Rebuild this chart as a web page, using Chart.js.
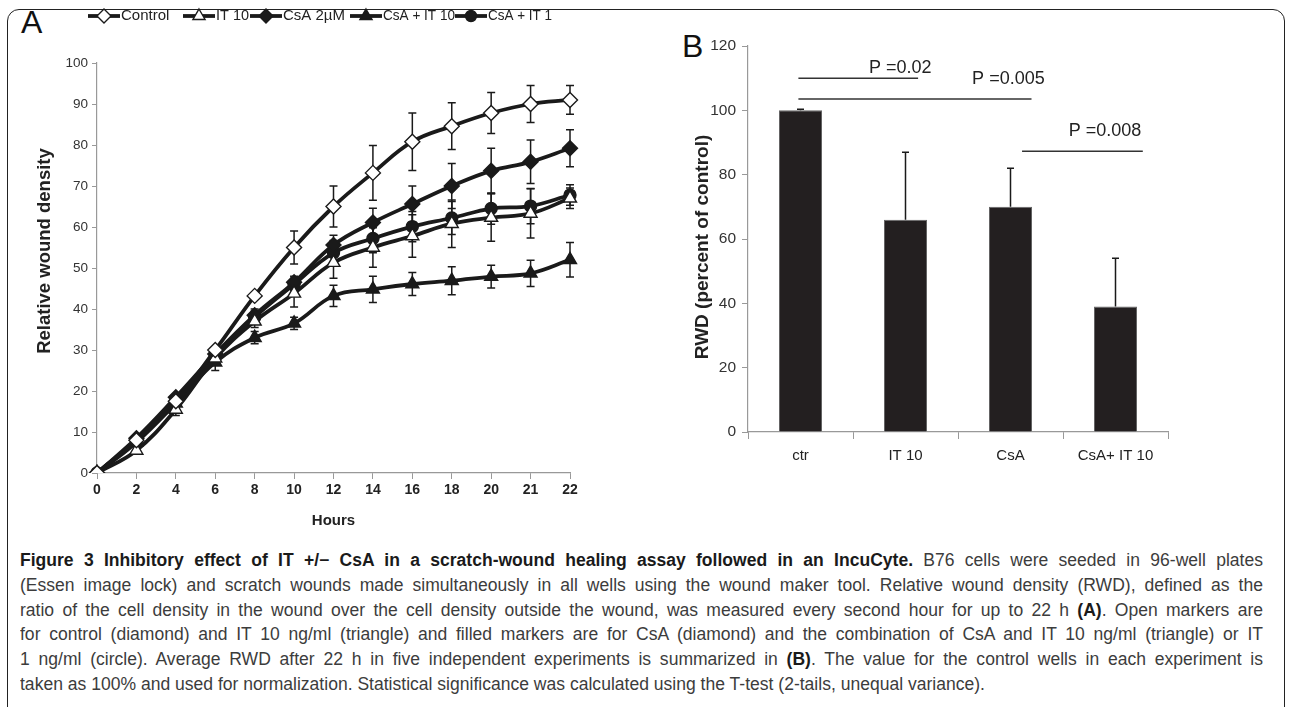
<!DOCTYPE html>
<html>
<head>
<meta charset="utf-8">
<script src="https://cdn.jsdelivr.net/npm/chart.js@4.4.0/dist/chart.umd.min.js"></script>
<style>
  html, body { margin: 0; padding: 0; background: #fff; width: 1292px; height: 707px; overflow: hidden; }
  #frame { position: absolute; left: 7px; top: 9px; width: 1276px; height: 730px; border: 1.5px solid #222; border-radius: 12px; }
  .panel { position: absolute; font-family: "Liberation Sans", Arial, sans-serif; font-size: 32px; color: #111; }
  #wrapA { position: absolute; left: 0; top: 0; width: 650px; height: 540px; }
  #wrapB { position: absolute; left: 640px; top: 0; width: 570px; height: 540px; }
  #caption { position: absolute; left: 20px; top: 548px; transform-origin: 0 0; font-family: "Liberation Sans", Arial, sans-serif; font-size: 17.5px; color: #3c3c3c; }
  #caption div { white-space: nowrap; height: 24.8px; line-height: 24.8px; }
  #caption span { display: inline-block; }
  #caption.fit span { display: inline; }
  #caption.fit div { text-align: justify; text-align-last: justify; }
  #caption.fit div.last { text-align-last: left; }
  #caption b { color: #1a1a1a; }
</style>
</head>
<body>
<div id="frame"></div>
<div class="panel" style="left:21px; top:4px;">A</div>
<div class="panel" style="left:682px; top:28px;">B</div>
<div id="wrapA"><canvas id="chartA" width="650" height="540"></canvas></div>
<div id="wrapB"><canvas id="chartB" width="570" height="540"></canvas></div>
<div id="caption">
  <div><span><b>Figure 3 Inhibitory effect of IT +/− CsA in a scratch-wound healing assay followed in an IncuCyte.</b> B76 cells were seeded in 96-well plates</span></div>
  <div><span>(Essen image lock) and scratch wounds made simultaneously in all wells using the wound maker tool. Relative wound density (RWD), defined as the</span></div>
  <div><span>ratio of the cell density in the wound over the cell density outside the wound, was measured every second hour for up to 22 h <b>(A)</b>. Open markers are</span></div>
  <div><span>for control (diamond) and IT 10 ng/ml (triangle) and filled markers are for CsA (diamond) and the combination of CsA and IT 10 ng/ml (triangle) or IT</span></div>
  <div><span>1 ng/ml (circle). Average RWD after 22 h in five independent experiments is summarized in <b>(B)</b>. The value for the control wells in each experiment is</span></div>
  <div class="last"><span>taken as 100% and used for normalization. Statistical significance was calculated using the T-test (2-tails, unequal variance).</span></div>
</div>
<script>
// panel A data
const hours = ["0", "2", "4", "6", "8", "10", "12", "14", "16", "18", "20", "21", "22"];
const controlMean = [0, 8, 17.5, 30, 43.2, 55, 65, 73.2, 80.8, 84.6, 87.8, 90, 91];
const controlErr = [0.5, 1, 1, 1, 1, 4, 5, 6.7, 7, 5.7, 5, 4.5, 3.5];
const it10Mean = [0, 5.5, 15.5, 28, 37, 43.8, 51.3, 55, 57.8, 60.8, 62.3, 63.3, 67];
const it10Err = [0.5, 1, 1.5, 1.5, 1.5, 3.3, 3.8, 4.8, 5.2, 5.8, 5.8, 6, 2.5];
const csaMean = [0, 8.5, 18.5, 29, 38.5, 46.5, 55.6, 61.1, 65.6, 70, 73.7, 75.9, 79.2];
const csaErr = [0.5, 1, 1, 1, 1.5, 1.5, 2.4, 3.5, 4.4, 5.5, 5.5, 5.3, 4.5];
const csaIt10Mean = [0, 7.5, 17, 27, 33, 36.5, 43.2, 44.8, 46.1, 46.9, 47.9, 48.7, 52];
const csaIt10Err = [0.5, 1, 1, 2, 1.5, 1.5, 2.6, 3.2, 2.8, 3.4, 2.8, 3.2, 4.2];
const csaIt1Mean = [0, 8, 18, 28.5, 38, 46, 53.7, 57.2, 60.1, 62.2, 64.5, 65.1, 67.8];
const csaIt1Err = [0.5, 1, 1, 1, 1.5, 1.5, 3, 3.5, 3.7, 4, 3.8, 4.3, 2.5];

// panel B data
const groups = ["ctr", "IT 10", "CsA", "CsA+ IT 10"];
const rwdMean = [100, 66, 70, 39];
const rwdErr = [0.3, 21, 12, 15];
const sigLabels = ["P =0.02", "P =0.005", "P =0.008"];
const sigLevel = [110, 103.5, 87.3];
const sigFrom = [-0.02, -0.02, 2.11];
const sigTo = [1.12, 2.2, 3.26];
const sigTextAt = [0.95, 1.98, 2.9];
const sigTextLevel = [113.3, 109.7, 93.6];

const FONT = '"Liberation Sans", Arial, sans-serif';
const INK = "#1a1a1a";

function series(label, data, errors, style, fill, radius) {
  return {
    label: label, data: data, errors: errors,
    borderColor: INK, borderWidth: 3.8, tension: 0.4,
    pointStyle: style, pointRadius: radius, pointBorderWidth: 1.4,
    pointBackgroundColor: fill, pointBorderColor: INK, legendFill: fill
  };
}

// y title drawn by hand so it can sit off-centre like the original
function sideTitle(text, x, y, size) {
  return {
    id: "sideTitle",
    afterDraw(chart) {
      const ctx = chart.ctx;
      ctx.save();
      ctx.translate(x, y);
      ctx.rotate(-Math.PI / 2);
      ctx.font = "bold " + size + "px " + FONT;
      ctx.fillStyle = "#222";
      ctx.textAlign = "center";
      ctx.textBaseline = "middle";
      ctx.fillText(text, 0, 0);
      ctx.restore();
    }
  };
}

const errorBars = {
  id: "errorBars",
  beforeDatasetsDraw(chart) {
    const ctx = chart.ctx, y = chart.scales.y;
    ctx.save();
    ctx.strokeStyle = INK;
    ctx.lineWidth = 1.5;
    chart.data.datasets.forEach((ds, di) => {
      const meta = chart.getDatasetMeta(di);
      meta.data.forEach((pt, i) => {
        const e = ds.errors[i];
        if (e < 1.2) return;
        const top = y.getPixelForValue(ds.data[i] + e);
        const bot = y.getPixelForValue(ds.data[i] - e);
        ctx.beginPath();
        ctx.moveTo(pt.x, top); ctx.lineTo(pt.x, bot);
        ctx.moveTo(pt.x - 4, top); ctx.lineTo(pt.x + 4, top);
        ctx.moveTo(pt.x - 4, bot); ctx.lineTo(pt.x + 4, bot);
        ctx.stroke();
      });
    });
    ctx.restore();
  }
};

// legend entries as line-marker-line, like the spreadsheet original
const legendStarts = [88, 183, 250, 350, 455];
const legendTextWidth = [55, 33, 62, 72, 64];
const lineLegend = {
  id: "lineLegend",
  afterDraw(chart) {
    const ctx = chart.ctx;
    ctx.save();
    ctx.font = "15px " + FONT;
    ctx.textBaseline = "middle";
    const yy = 16;
    chart.data.datasets.forEach((ds, i) => {
      const x = legendStarts[i];
      ctx.strokeStyle = INK;
      ctx.lineWidth = 3.8;
      ctx.beginPath(); ctx.moveTo(x, yy); ctx.lineTo(x + 32, yy); ctx.stroke();
      ctx.fillStyle = ds.legendFill;
      ctx.lineWidth = 1.4;
      Chart.helpers.drawPoint(ctx, { pointStyle: ds.pointStyle, radius: ds.pointRadius - 0.5, borderWidth: 1.4 }, x + 16, yy);
      ctx.fillStyle = "#222";
      ctx.fillText(ds.label, x + 33, yy, legendTextWidth[i]);
    });
    ctx.restore();
  }
};

new Chart(document.getElementById("chartA"), {
  type: "line",
  data: {
    labels: hours,
    datasets: [
      series("Control", controlMean, controlErr, "rectRot", "#ffffff", 7.5),
      series("IT 10", it10Mean, it10Err, "triangle", "#ffffff", 7.5),
      series("CsA 2µM", csaMean, csaErr, "rectRot", INK, 7.5),
      series("CsA + IT 10", csaIt10Mean, csaIt10Err, "triangle", INK, 7.5),
      series("CsA + IT 1", csaIt1Mean, csaIt1Err, "circle", INK, 6)
    ]
  },
  options: {
    responsive: false, animation: false, devicePixelRatio: 1,
    layout: { padding: { left: 27, top: 63, right: 80, bottom: 7 } },
    plugins: { legend: { display: false }, tooltip: { enabled: false } },
    scales: {
      x: {
        offset: false,
        afterFit: (s) => { s.height = 60; },
        grid: { drawOnChartArea: false, drawTicks: true, tickLength: 6, color: "#999" },
        border: { color: "#999", width: 1.2 },
        ticks: { color: "#222", font: { family: FONT, size: 14, weight: "bold" }, padding: 3, maxRotation: 0, autoSkip: false },
        title: { display: true, text: "Hours", color: "#222", font: { family: FONT, size: 15, weight: "bold" }, padding: { bottom: 3 } }
      },
      y: {
        min: 0, max: 100,
        afterFit: (s) => { s.width = 70; },
        grid: { drawOnChartArea: false, drawTicks: true, tickLength: 5, color: "#999" },
        border: { color: "#999", width: 1.2 },
        ticks: { stepSize: 10, color: "#333", font: { family: FONT, size: 13.5 }, padding: 4 }
      }
    }
  },
  plugins: [errorBars, lineLegend, sideTitle("Relative wound density", 45, 251, 18.5)]
});

const barExtras = {
  id: "barExtras",
  afterDatasetsDraw(chart) {
    const ctx = chart.ctx, x = chart.scales.x, y = chart.scales.y;
    const step = x.getPixelForValue(1) - x.getPixelForValue(0);
    const at = (v) => x.getPixelForValue(0) + v * step;
    ctx.save();
    ctx.strokeStyle = INK;
    ctx.lineWidth = 1.5;
    const meta = chart.getDatasetMeta(0);
    meta.data.forEach((bar, i) => {
      const top = y.getPixelForValue(rwdMean[i] + rwdErr[i]);
      ctx.beginPath();
      ctx.moveTo(bar.x, bar.y); ctx.lineTo(bar.x, top);
      ctx.moveTo(bar.x - 3.5, top); ctx.lineTo(bar.x + 3.5, top);
      ctx.stroke();
    });
    ctx.strokeStyle = "#333";
    ctx.font = "18px " + FONT;
    ctx.fillStyle = "#222";
    ctx.textAlign = "center";
    ctx.textBaseline = "middle";
    sigLabels.forEach((lab, i) => {
      const ly = y.getPixelForValue(sigLevel[i]);
      ctx.beginPath();
      ctx.moveTo(at(sigFrom[i]), ly); ctx.lineTo(at(sigTo[i]), ly);
      ctx.stroke();
      ctx.fillText(lab, at(sigTextAt[i]), y.getPixelForValue(sigTextLevel[i]));
    });
    ctx.restore();
  }
};

new Chart(document.getElementById("chartB"), {
  type: "bar",
  data: {
    labels: groups,
    datasets: [{
      data: rwdMean,
      backgroundColor: "#231f20",
      borderColor: "#666",
      borderWidth: 1,
      barPercentage: 0.41,
      categoryPercentage: 1
    }]
  },
  options: {
    responsive: false, animation: false, devicePixelRatio: 1,
    layout: { padding: { left: 50, top: 46, right: 42, bottom: 48 } },
    plugins: { legend: { display: false }, tooltip: { enabled: false } },
    scales: {
      x: {
        afterFit: (s) => { s.height = 60; },
        grid: { offset: true, drawOnChartArea: false, drawTicks: true, tickLength: 7, color: "#999" },
        border: { color: "#999", width: 1.2 },
        ticks: { color: "#222", font: { family: FONT, size: 15 }, padding: 8 }
      },
      y: {
        min: 0, max: 120,
        afterFit: (s) => { s.width = 58; },
        grid: { drawOnChartArea: false, drawTicks: true, tickLength: 6, color: "#999" },
        border: { color: "#999", width: 1.2 },
        ticks: { stepSize: 20, color: "#333", font: { family: FONT, size: 15.5 }, padding: 6 }
      }
    }
  },
  plugins: [barExtras, sideTitle("RWD (percent of control)", 63, 247, 19)]
});

// caption: condense the text, then justify the full lines across the original width
(function () {
  const cap = document.getElementById("caption");
  const rows = cap.querySelectorAll("div");
  const lastW = rows[rows.length - 1].querySelector("span").getBoundingClientRect().width;
  const k = 965 / lastW;
  cap.classList.add("fit");
  rows.forEach((row) => { row.style.width = (1243 / k) + "px"; });
  cap.style.transform = "scaleX(" + k + ")";
})();
</script>
</body>
</html>
